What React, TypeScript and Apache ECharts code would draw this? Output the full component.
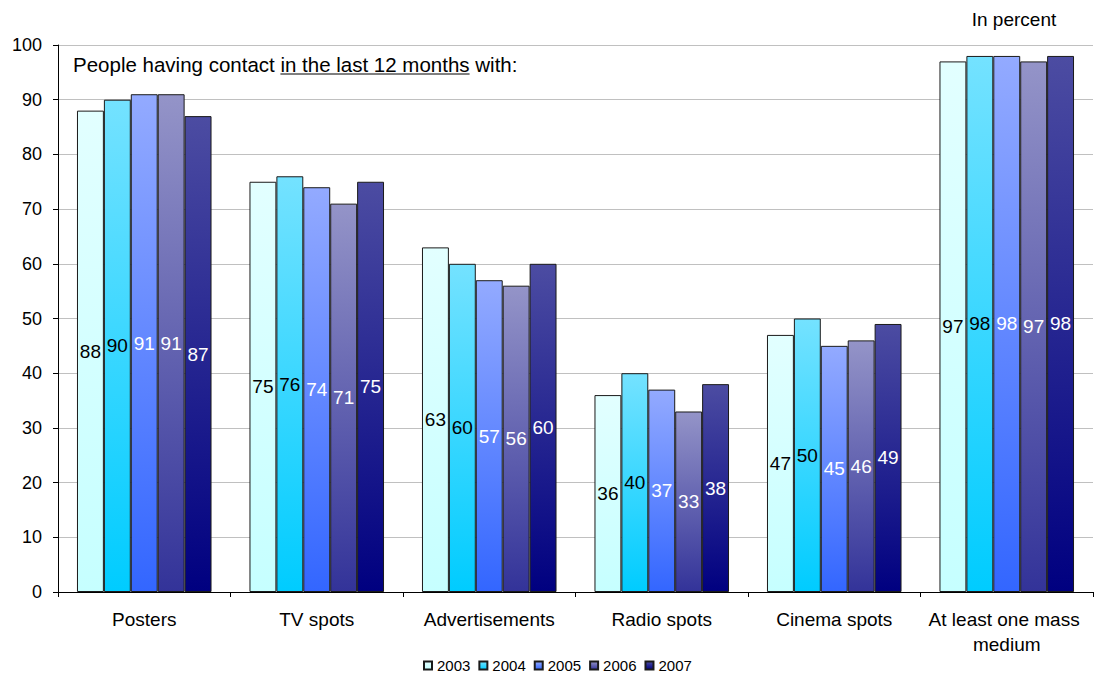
import React, { useEffect, useRef } from "react";
import * as echarts from "echarts";

// Media contact shares, in percent
const categories = [
  "Posters",
  "TV spots",
  "Advertisements",
  "Radio spots",
  "Cinema spots",
  "At least one mass medium",
];
const years = ["2003", "2004", "2005", "2006", "2007"];
const values2003 = [88, 75, 63, 36, 47, 97];
const values2004 = [90, 76, 60, 40, 50, 98];
const values2005 = [91, 74, 57, 37, 45, 98];
const values2006 = [91, 71, 56, 33, 46, 97];
const values2007 = [87, 75, 60, 38, 49, 98];
const yTicks = [0, 10, 20, 30, 40, 50, 60, 70, 80, 90, 100];

const seriesValues = [values2003, values2004, values2005, values2006, values2007];

// Per-year vertical gradients (top colour, bottom colour) and label colours
const gradients: [string, string][] = [
  ["#e2ffff", "#c6ffff"],
  ["#74e2ff", "#00ccff"],
  ["#93aaff", "#3366ff"],
  ["#9494c8", "#333399"],
  ["#4c4ca2", "#000080"],
];
const labelColors = ["#000000", "#000000", "#ffffff", "#ffffff", "#ffffff"];

const FONT = "'Liberation Sans', Arial, sans-serif";

const noteBefore = "People having contact ";
const noteUnderlined = "in the last 12 months";
const noteAfter = " with:";

function measure(text: string, size: number): number {
  const c = document.createElement("canvas").getContext("2d");
  if (!c) return text.length * size * 0.5;
  c.font = `${size}px ${FONT}`;
  return c.measureText(text).width;
}

export default function App() {
  const ref = useRef<HTMLDivElement>(null);

  useEffect(() => {
    if (!ref.current) return;
    document.body.style.margin = "0";
    document.body.style.overflow = "hidden";
    const chart = echarts.init(ref.current, undefined, { renderer: "svg" });

    const noteX = 73;
    const noteY = 64;
    const noteSize = 20.5;
    const w1 = measure(noteBefore, noteSize);
    const w2 = measure(noteUnderlined, noteSize);

    chart.setOption({
      animation: false,
      backgroundColor: "#ffffff",
      textStyle: { fontFamily: FONT },
      grid: { left: 58, right: 4, top: 45, bottom: 85, containLabel: false },
      legend: {
        data: years,
        top: 658,
        left: 423,
        padding: 0,
        icon: "rect",
        itemWidth: 8,
        itemHeight: 8,
        itemGap: 8,
        textStyle: { fontSize: 15, color: "#000", fontFamily: FONT },
      },
      xAxis: {
        type: "category",
        data: categories,
        axisLine: { lineStyle: { color: "#000", width: 1 } },
        axisTick: { show: true, length: 5, lineStyle: { color: "#000" } },
        axisLabel: {
          color: "#000",
          fontSize: 19,
          margin: 15,
          lineHeight: 25,
          width: 165,
          overflow: "break",
          interval: 0,
        },
      },
      yAxis: {
        type: "value",
        min: yTicks[0],
        max: yTicks[yTicks.length - 1],
        interval: 10,
        axisLine: { show: true, lineStyle: { color: "#000", width: 1 } },
        axisTick: { show: true, length: 5, lineStyle: { color: "#000" } },
        axisLabel: { color: "#000", fontSize: 18, margin: 16 },
        splitLine: { lineStyle: { color: "#c0c0c0", width: 1 } },
      },
      series: years.map((y, i) => ({
        name: y,
        type: "bar",
        data: seriesValues[i],
        barGap: "0%",
        barCategoryGap: "22%",
        itemStyle: {
          color: new echarts.graphic.LinearGradient(0, 0, 0, 1, [
            { offset: 0, color: gradients[i][0] },
            { offset: 1, color: gradients[i][1] },
          ]),
          borderColor: "#1a1a1a",
          borderWidth: 1,
        },
        label: {
          show: true,
          position: "inside",
          color: labelColors[i],
          fontSize: 19,
          fontFamily: FONT,
        },
      })),
      graphic: [
        {
          type: "text",
          x: 1014,
          y: 19,
          style: {
            text: "In percent",
            font: `19px ${FONT}`,
            fill: "#000",
            align: "center",
            verticalAlign: "middle",
          },
        },
        {
          type: "group",
          x: noteX,
          y: noteY,
          children: [
            {
              type: "text",
              x: 0,
              y: 0,
              style: {
                text: noteBefore,
                font: `${noteSize}px ${FONT}`,
                fill: "#000",
                verticalAlign: "middle",
              },
            },
            {
              type: "text",
              x: w1,
              y: 0,
              style: {
                text: noteUnderlined,
                font: `${noteSize}px ${FONT}`,
                fill: "#000",
                verticalAlign: "middle",
              },
            },
            {
              type: "line",
              shape: { x1: w1, y1: 10, x2: w1 + w2, y2: 10 },
              style: { stroke: "#000", lineWidth: 1 },
            },
            {
              type: "text",
              x: w1 + w2,
              y: 0,
              style: {
                text: noteAfter,
                font: `${noteSize}px ${FONT}`,
                fill: "#000",
                verticalAlign: "middle",
              },
            },
          ],
        },
      ],
    });

    return () => chart.dispose();
  }, []);

  return (
    <div
      ref={ref}
      style={{ position: "absolute", left: 0, top: 0, width: 1097, height: 677 }}
    />
  );
}
